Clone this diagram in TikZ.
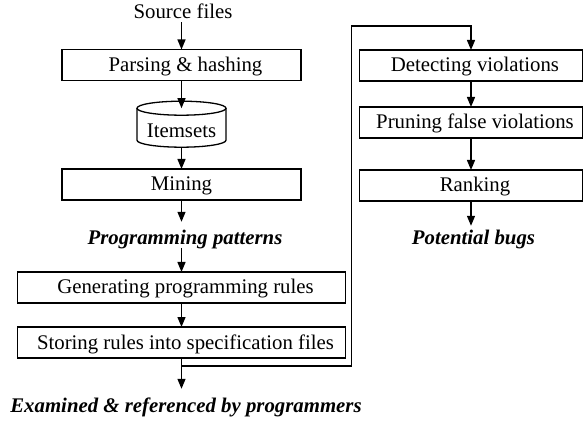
\documentclass[tikz,border=0pt]{standalone}
\usepackage{fontspec}
\setmainfont{Liberation Serif}
\usetikzlibrary{arrows.meta}
\newcommand\padtxt[1]{\hspace*{8pt}#1}
\begin{document}
\begin{tikzpicture}[x=1pt,y=1pt,
  font=\fontsize{20.8}{25}\selectfont,
  lw/.style={line width=1.3pt},
  procbox/.style={draw,lw,minimum height=31pt,inner sep=2pt,text height=15pt,text depth=2pt,outer sep=0pt},
  narrow/.style={procbox,minimum width=239pt},
  wide/.style={procbox,minimum width=328pt},
  rbox/.style={procbox,minimum width=223pt},
  outtxt/.style={font=\fontsize{20.8}{25}\selectfont\bfseries\itshape,inner xsep=0pt,inner ysep=9pt,text height=14pt,text depth=4pt,anchor=base},
  arr/.style={lw,-{Triangle[length=10pt,width=8pt]}}]
\useasboundingbox (0,0) rectangle (584,-422);

% left column
\node[anchor=base,inner xsep=0pt,inner ysep=3.5pt,text depth=0pt] (src) at (183,-18.5) {Source files};
\node[narrow] (parse) at (181.5,-65) {\padtxt{Parsing \& hashing}};
\node[minimum width=89pt,minimum height=32pt,inner sep=0pt,outer sep=0pt,text height=15pt,text depth=2pt] (itemsets) at (181.5,-131.2) {Itemsets};
\draw[lw] ([yshift=7pt]itemsets.north) ellipse [x radius=44.5, y radius=7];
\draw[lw] ([yshift=7pt]itemsets.north west) -- ([yshift=7pt]itemsets.south west)
  arc[start angle=180,end angle=360,x radius=44.5,y radius=7] -- ([yshift=7pt]itemsets.north east);
\node[narrow] (mining) at (181.5,-184.5) {Mining};
\node[outtxt] (pp) at (185,-245) {Programming patterns};
\node[wide] (gen) at (181.5,-287.5) {\padtxt{Generating programming rules}};
\node[wide] (store) at (181.5,-342.5) {\padtxt{Storing rules into specification files}};
\node[outtxt] (exam) at (186,-412) {Examined \& referenced by programmers};

% right column
\node[rbox] (detect) at (471,-65.5) {\padtxt{Detecting violations}};
\node[rbox] (prune) at (471,-122.5) {\padtxt{Pruning false violations}};
\node[rbox] (rank) at (471,-185.5) {\padtxt{Ranking}};
\node[outtxt,inner ysep=5pt] (bugs) at (473.5,-245) {Potential bugs};

% connectors
\draw[arr] (parse.north |- src.south) -- (parse.north);
\draw[arr] (parse.south) -- ([yshift=7pt]itemsets.north);
\draw[arr] (itemsets.south) -- (mining.north);
\draw[arr] (mining.south) -- (mining.south |- pp.north);
\draw[arr,shorten <=3pt] (gen.north |- pp.base) -- (gen.north);
\draw[arr] (gen.south) -- (store.north);
\draw[arr] (store.south) -- (store.south |- exam.north);
\coordinate (ja) at (181.5,-366);
\coordinate (jb) at (351.5,-26);
\draw[arr] (ja) -| (jb) -| (detect.north);
\draw[arr] (detect.south) -- (prune.north);
\draw[arr] (prune.south) -- (rank.north);
\draw[arr] (rank.south) -- (rank.south |- bugs.north);
\end{tikzpicture}
\end{document}
